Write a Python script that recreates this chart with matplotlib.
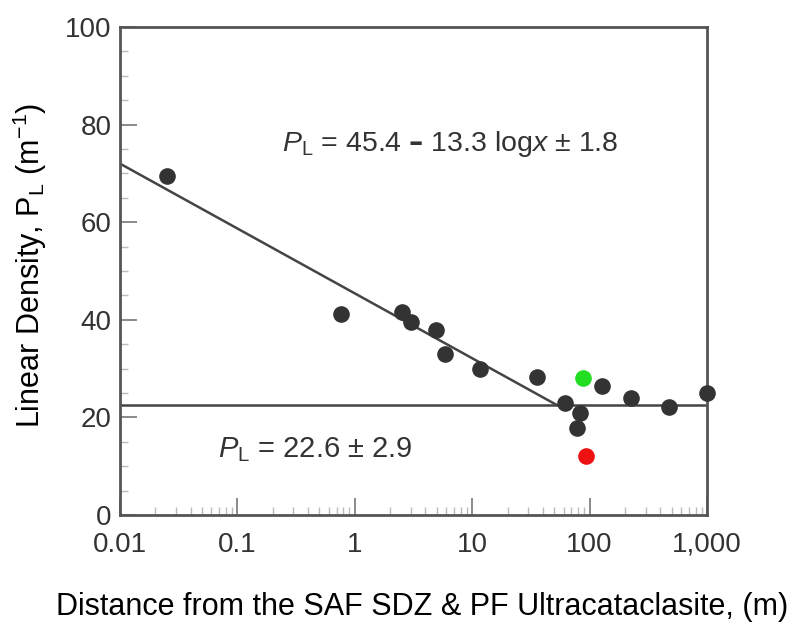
import numpy as np
import matplotlib
matplotlib.use("Agg")
import matplotlib.pyplot as plt
from matplotlib.ticker import FixedLocator, MultipleLocator, LogLocator, NullFormatter

plt.rcParams['font.family'] = ['Liberation Sans', 'DejaVu Sans']
plt.rcParams['mathtext.fontset'] = 'custom'
plt.rcParams['mathtext.rm'] = 'Liberation Sans'
plt.rcParams['mathtext.it'] = 'Liberation Sans:italic'

# measured points (distance in m, linear density in 1/m)
dist = [0.025, 0.76, 2.5, 3.0, 4.9, 5.9, 11.6, 35.9, 61.7, 82.8, 78.5, 127, 225, 477, 1000]
density = [69.5, 41.2, 41.6, 39.6, 37.9, 33.0, 29.9, 28.2, 23.0, 20.8, 17.9, 26.4, 24.0, 22.1, 25.1]

green_pt = (88.5, 28.1)
red_pt = (93.3, 12.1)

# fit lines
fit_x = [0.01, 52]
fit_y = [72.0, 22.6]
flat_x = [0.01, 1000]
flat_y = [22.6, 22.6]

xticks = [0.01, 0.1, 1, 10, 100, 1000]
xlabels = ["0.01", "0.1", "1", "10", "100", "1,000"]
yticks = [0, 20, 40, 60, 80, 100]

fig = plt.figure(figsize=(8.07, 6.27), dpi=100)
ax = fig.add_axes([120/807, 1 - 515/627, (707-120)/807, (515-27)/627])

lc = '#444444'
ax.plot(fit_x, fit_y, color=lc, lw=1.8)
ax.plot(flat_x, flat_y, color=lc, lw=1.8)
ax.scatter(dist, density, s=120, color='#333333', zorder=3, clip_on=False)
ax.scatter([green_pt[0]], [green_pt[1]], s=120, color='#22dd22', zorder=3)
ax.scatter([red_pt[0]], [red_pt[1]], s=120, color='#ee1111', zorder=3)

ax.set_xscale('log')
ax.set_xlim(0.01, 1000)
ax.set_ylim(0, 100)
ax.xaxis.set_major_locator(FixedLocator(xticks))
ax.set_xticklabels(xlabels)
ax.xaxis.set_minor_locator(LogLocator(base=10, subs=np.arange(2, 10), numticks=20))
ax.xaxis.set_minor_formatter(NullFormatter())
ax.set_yticks(yticks)
ax.yaxis.set_minor_locator(MultipleLocator(5))

for s in ax.spines.values():
    s.set_color('#555555')
    s.set_linewidth(2)

ax.tick_params(which='major', direction='in', length=12, width=1.2, color='#777777',
               labelsize=20, labelcolor='#333333')
ax.tick_params(axis='x', which='major', pad=12)
ax.tick_params(axis='y', which='major', pad=6)
ax.tick_params(which='minor', direction='in', length=6, width=1, color='#bbbbbb')
ax.tick_params(top=False, right=False, which='both')

ax.text(0.562, 76, r'$\mathit{P}_{\mathrm{L}}$ = 45.4 $\mathbf{–}$ 13.3 log$\mathit{x}$ ± 1.8',
        transform=ax.get_yaxis_transform(), fontsize=20.5, color='#333333',
        ha='center', va='center')
ax.text(0.332, 13.3, r'$\mathit{P}_{\mathrm{L}}$ = 22.6 ± 2.9', transform=ax.get_yaxis_transform(),
        fontsize=21, color='#333333', ha='center', va='center')

ax.set_xlabel('Distance from the SAF SDZ & PF Ultracataclasite, (m)', fontsize=22, va='center')
ax.set_ylabel(r'Linear Density, P$_{\mathrm{L}}$ (m$^{\mathrm{-1}}$)', fontsize=22, va='center')
ax.xaxis.set_label_coords((422 - 120) / 587, -(607 - 515) / 488)
ax.yaxis.set_label_coords(-(120 - 30) / 587, (515 - 265) / 488)

fig.savefig('out.png', dpi=100)
